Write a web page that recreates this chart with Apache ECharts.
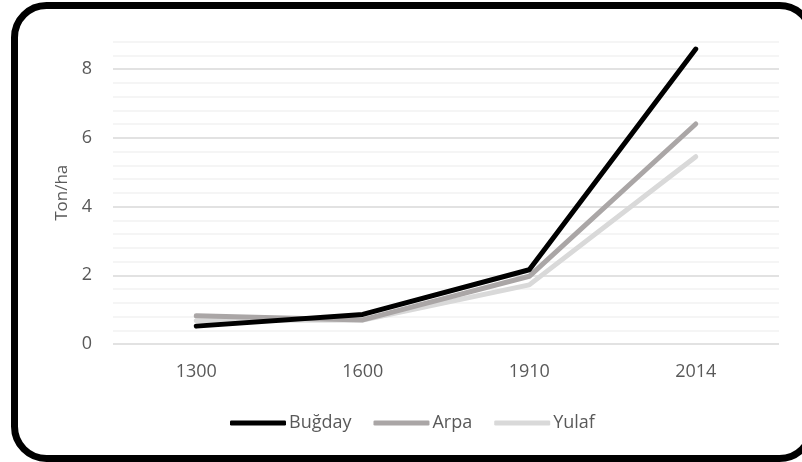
<!DOCTYPE html>
<html>
<head>
<meta charset="utf-8">
<script src="https://cdn.jsdelivr.net/npm/echarts@6/dist/echarts.min.js"></script>
<style>
	html, body { margin: 0; padding: 0; background: #ffffff; }
	#chart { width: 802px; height: 462px; }
</style>
</head>
<body>
<div id="chart"></div>
<script>
	// yıllar ve verim (ton/ha)
	var years = ['1300', '1600', '1910', '2014'];
	var bugday = [0.52, 0.86, 2.16, 8.58];
	var arpa = [0.82, 0.70, 1.97, 6.40];
	var yulaf = [0.68, 0.70, 1.72, 5.45];
	var seriesNames = ['Buğday', 'Arpa', 'Yulaf'];
	var seriesColors = ['#000000', '#aaa6a6', '#d9d9d9'];

	var myChart = echarts.init(document.getElementById('chart'));
	var textFont = '"Open Sans", "Noto Sans", sans-serif';

	function lineSeries(name, data, color, z) {
		return {
			name: name,
			type: 'line',
			data: data,
			symbol: 'none',
			z: z,
			lineStyle: { color: color, width: 5, cap: 'round', join: 'round' },
			itemStyle: { color: color }
		};
	}

	var option = {
		animation: false,
		textStyle: { fontFamily: textFont },
		graphic: [{
			type: 'rect',
			shape: { x: 14.5, y: 5.5, width: 797, height: 453, r: 32 },
			style: { fill: 'none', stroke: '#000000', lineWidth: 7 },
			z: 100
		}],
		grid: { left: 113, right: 23, top: 41.5, bottom: 118 },
		legend: {
			bottom: 25,
			left: 225,
			icon: 'roundRect',
			itemWidth: 56,
			itemHeight: 5,
			itemGap: 22,
			textStyle: { color: '#595959', fontSize: 18, fontFamily: textFont, padding: [0, 0, 0, -2] },
			data: seriesNames
		},
		xAxis: {
			type: 'category',
			data: years,
			boundaryGap: true,
			axisLine: { show: false },
			axisTick: { show: false },
			axisLabel: { color: '#595959', fontSize: 18, margin: 19 }
		},
		yAxis: {
			type: 'value',
			min: 0,
			max: 8.8,
			interval: 0.4,
			name: 'Ton/ha',
			nameLocation: 'middle',
			nameGap: 42,
			nameTextStyle: { color: '#595959', fontSize: 17 },
			axisLine: { show: false },
			axisTick: { show: false },
			axisLabel: {
				color: '#595959',
				fontSize: 18,
				margin: 21,
				formatter: function (v) {
					return Math.abs(v / 2 - Math.round(v / 2)) < 1e-6 ? String(Math.round(v)) : '';
				}
			},
			splitLine: {
				lineStyle: {
					color: ['#d9d9d9', '#f2f2f2', '#f2f2f2', '#f2f2f2', '#f2f2f2'],
					width: 1.5
				}
			}
		},
		series: [
			lineSeries(seriesNames[2], yulaf, seriesColors[2], 2),
			lineSeries(seriesNames[1], arpa, seriesColors[1], 3),
			lineSeries(seriesNames[0], bugday, seriesColors[0], 4)
		]
	};

	option && myChart.setOption(option);
</script>
</body>
</html>
